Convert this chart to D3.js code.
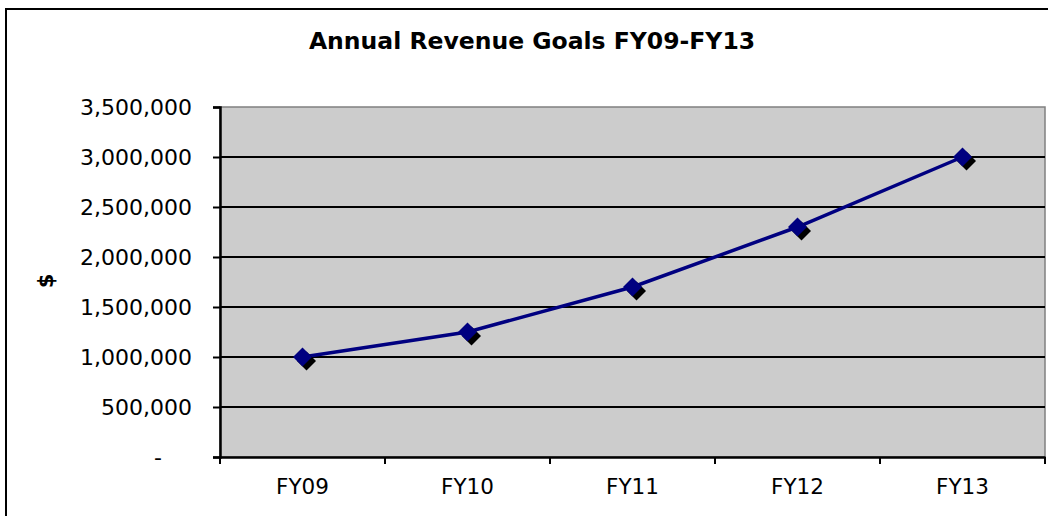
<!DOCTYPE html>
<html>
<head>
<meta charset="utf-8">
<script src="https://cdn.jsdelivr.net/npm/d3@7"></script>
<style>
html,body{margin:0;padding:0;background:#fff;}
svg{display:block;}
text{font-family:Verdana,"DejaVu Sans",sans-serif;fill:#000;}
</style>
</head>
<body>
<svg id="chart" width="1048" height="516"></svg>
<script>
const categories = ["FY09","FY10","FY11","FY12","FY13"];
const revenueGoals = [1000000, 1250000, 1700000, 2300000, 3000000];
const yTicks = [0, 500000, 1000000, 1500000, 2000000, 2500000, 3000000, 3500000];
const title = "Annual Revenue Goals FY09-FY13";
const yLabel = "$";

const svg = d3.select("#chart");
const W = 1048, H = 516;
const m = {left:220, right:1045, top:107, bottom:457};
const FONT = 'Verdana,"DejaVu Sans",sans-serif';

// outer frame (only left/top visible)
svg.append("rect").attr("x",6).attr("y",9).attr("width",W+20).attr("height",H+20)
  .attr("fill","#fff").attr("stroke","#000").attr("stroke-width",2);

const x = d3.scaleBand().domain(categories).range([m.left, m.right]).padding(0);
const y = d3.scaleLinear().domain([0, 3500000]).range([m.bottom, m.top]);

// plot area
svg.append("rect").attr("x",m.left).attr("y",m.top)
  .attr("width",m.right-m.left).attr("height",m.bottom-m.top)
  .attr("fill","#cccccc").attr("stroke","#808080").attr("stroke-width",1.5);

// gridlines
svg.append("g").selectAll("line").data(yTicks.filter(d=>d>0 && d<3500000)).join("line")
  .attr("x1",m.left).attr("x2",m.right)
  .attr("y1",d=>y(d)).attr("y2",d=>y(d))
  .attr("stroke","#000").attr("stroke-width",2);

// y axis
const fmt = d => d===0 ? "-" : d3.format(",")(d);
const yAxis = d3.axisLeft(y).tickValues(yTicks).tickFormat(fmt).tickSize(7).tickPadding(21);
const gy = svg.append("g").attr("transform",`translate(${m.left},0)`).call(yAxis);
gy.select(".domain").attr("stroke","#000").attr("stroke-width",2.5);
gy.selectAll(".tick line").attr("stroke","#000").attr("stroke-width",2);
gy.selectAll(".tick text").attr("font-size",22).attr("font-family",FONT).attr("fill","#000");
gy.selectAll(".tick").filter(d=>d===0).select("text").attr("dx",-30);

// x axis
const xAxis = d3.axisBottom(x).tickSize(0).tickPadding(22);
const gx = svg.append("g").attr("transform",`translate(0,${m.bottom})`).call(xAxis);
gx.select(".domain").attr("stroke","#000").attr("stroke-width",2.5);
gx.selectAll(".tick text").attr("font-size",21.5).attr("font-family",FONT).attr("fill","#000");
// boundary ticks between categories
const bounds = categories.map(c=>x(c)).concat([m.right]);
svg.append("g").selectAll("line").data(bounds).join("line")
  .attr("x1",d=>d).attr("x2",d=>d).attr("y1",m.bottom).attr("y2",m.bottom+7)
  .attr("stroke","#000").attr("stroke-width",2);

// line
const cx = d => x(d) + x.bandwidth()/2;
const pts = categories.map((c,i)=>[cx(c), y(revenueGoals[i])]);
svg.append("path").datum(pts).attr("d", d3.line())
  .attr("fill","none").attr("stroke","#000080").attr("stroke-width",3.5);

// markers with shadow
const diamond = d3.symbol().type(d3.symbolDiamond2).size(230);
svg.append("g").selectAll("path").data(pts).join("path")
  .attr("d", diamond).attr("transform",d=>`translate(${d[0]+4},${d[1]+4})`)
  .attr("fill","#000");
svg.append("g").selectAll("path").data(pts).join("path")
  .attr("d", diamond).attr("transform",d=>`translate(${d[0]},${d[1]})`)
  .attr("fill","#000080");

// title
svg.append("text").attr("x",532).attr("y",49).attr("text-anchor","middle")
  .attr("font-size",23.5).attr("font-weight","bold").text(title);

// y label
svg.append("text").attr("transform","translate(53,281) rotate(-90)")
  .attr("text-anchor","middle").attr("font-size",21).attr("font-weight","bold").text(yLabel);
</script>
</body>
</html>
